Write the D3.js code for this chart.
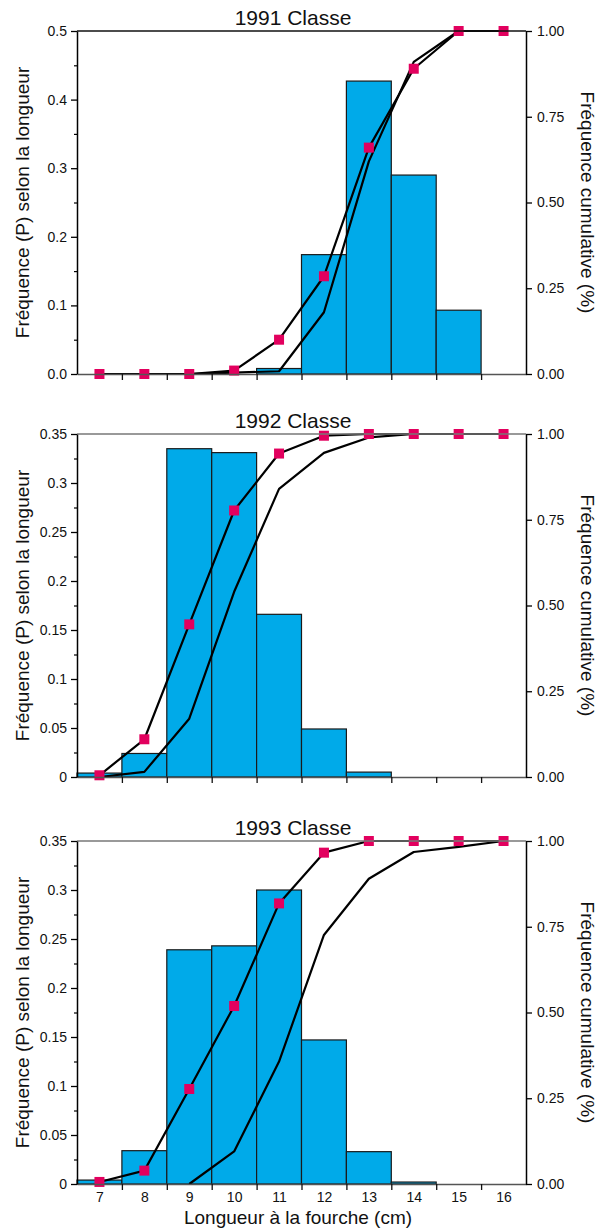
<!DOCTYPE html>
<html>
<head>
<meta charset="utf-8">
<script src="https://cdn.jsdelivr.net/npm/d3@7"></script>
<style>
body { margin:0; background:#fff; }
text { font-family:"Liberation Sans", Arial, Helvetica, sans-serif; fill:#111; }
</style>
</head>
<body>
<div id="chart-area"></div>
<script>
// longueur à la fourche (cm)
const lengths = [7, 8, 9, 10, 11, 12, 13, 14, 15, 16]

// fréquence (P) selon la longueur — histogram bars
const freq1991 = [0, 0, 0, 0, 0.008, 0.174, 0.427, 0.290, 0.093, 0]
const freq1992 = [0.004, 0.024, 0.335, 0.331, 0.166, 0.049, 0.005, 0, 0, 0]
const freq1993 = [0.004, 0.034, 0.239, 0.243, 0.300, 0.147, 0.033, 0.002, 0, 0]

// fréquence cumulative — line with squares
const cumMark1991 = [0, 0, 0, 0.01, 0.10, 0.285, 0.66, 0.89, 1.0, 1.0]
const cumMark1992 = [0.005, 0.11, 0.445, 0.777, 0.943, 0.995, 1.0, 1.0, 1.0, 1.0]
const cumMark1993 = [0.006, 0.039, 0.277, 0.519, 0.818, 0.966, 1.0, 1.0, 1.0, 1.0]

// fréquence cumulative — plain line
const cumLine1991 = [0, 0, 0, 0.004, 0.008, 0.18, 0.62, 0.91, 1.0, 1.0]
const cumLine1992 = [0, 0.015, 0.17, 0.54, 0.84, 0.945, 0.99, 1.0, 1.0, 1.0]
const cumLine1993 = [null, null, 0, 0.095, 0.357, 0.726, 0.89, 0.968, 0.983, 1.0]

const titles = ['1991 Classe', '1992 Classe', '1993 Classe']
const yMaxes = [0.5, 0.35, 0.35]
const yTicks1991 = [0, 0.1, 0.2, 0.3, 0.4, 0.5]
const yTicks1992 = [0, 0.05, 0.1, 0.15, 0.2, 0.25, 0.3, 0.35]
const cumTicks = [0, 0.25, 0.5, 0.75, 1]

const MARGIN = {LEFT:77, TOP:[31, 434, 841]}
const WIDTH = 449
const HEIGHT = 343

const svg = d3.select('#chart-area')
.append('svg')
.attr('width', 597)
.attr('height', 1230)

const x = d3.scaleLinear()
.domain([6.5, 16.5])
.range([0, WIDTH])

const edges = d3.range(7.5, 16, 1)

function drawPanel(i, freq, cumMark, cumLine, yTicks, minorStep, fmt, last, topColor) {
    const g = svg.append('g')
    .attr('transform', `translate(${MARGIN.LEFT},${MARGIN.TOP[i]})`)

    const y = d3.scaleLinear().domain([0, yMaxes[i]]).range([HEIGHT, 0])
    const yc = d3.scaleLinear().domain([0, 1]).range([HEIGHT, 0])

    const data = lengths.map((l, j) => ({l:l, p:freq[j], m:cumMark[j], c:cumLine[j]}))

    // bars
    g.selectAll('rect.bar')
    .data(data.filter(d => d.p > 0))
    .enter().append('rect')
    .attr('class', 'bar')
    .attr('x', d => x(d.l - 0.5))
    .attr('y', d => y(d.p))
    .attr('width', d => x(d.l + 0.5) - x(d.l - 0.5))
    .attr('height', d => HEIGHT - y(d.p))
    .attr('fill', '#00aae9')
    .attr('stroke', '#1a1a1a')
    .attr('stroke-width', 1.2)

    const line = d3.line()
    .defined(d => d.v != null)
    .x(d => x(d.l))
    .y(d => yc(d.v))

    g.append('path')
    .datum(data.map(d => ({l:d.l, v:d.c})))
    .attr('d', line)
    .attr('fill', 'none')
    .attr('stroke', '#000')
    .attr('stroke-width', 2.2)
    .attr('stroke-linejoin', 'round')

    g.append('path')
    .datum(data.map(d => ({l:d.l, v:d.m})))
    .attr('d', line)
    .attr('fill', 'none')
    .attr('stroke', '#000')
    .attr('stroke-width', 2.2)
    .attr('stroke-linejoin', 'round')

    g.selectAll('rect.mark')
    .data(data)
    .enter().append('rect')
    .attr('class', 'mark')
    .attr('x', d => x(d.l) - 5)
    .attr('y', d => yc(d.m) - 5)
    .attr('width', 10)
    .attr('height', 10)
    .attr('fill', '#e2005e')

    // top frame line
    g.append('line')
    .attr('x1', 0).attr('x2', WIDTH)
    .attr('y1', 0).attr('y2', 0)
    .attr('stroke', topColor)
    .attr('stroke-width', 1.5)

    // bottom axis: ticks on the bin edges
    const xAxis = g.append('g')
    .attr('transform', `translate(0,${HEIGHT})`)
    .call(d3.axisBottom(x).tickValues(edges).tickSize(6).tickSizeOuter(0).tickFormat(''))
    xAxis.select('.domain').attr('stroke', '#555').attr('stroke-width', 1.5)
    xAxis.selectAll('.tick line').attr('stroke', '#111').attr('stroke-width', 1.3)

    if (last) {
        const xLab = g.append('g')
        .attr('transform', `translate(0,${HEIGHT})`)
        .call(d3.axisBottom(x).tickValues(lengths).tickSize(0).tickPadding(8))
        xLab.select('.domain').remove()
        xLab.selectAll('text').attr('font-size', '14px').attr('font-family', '"Liberation Sans", Arial, sans-serif')

        g.append('text')
        .attr('x', 221)
        .attr('y', HEIGHT + 40)
        .attr('text-anchor', 'middle')
        .attr('font-size', '19px')
        .text('Longueur à la fourche (cm)')
    }

    // left axis with minor ticks
    const minor = g.append('g')
    .call(d3.axisLeft(y).tickValues(d3.range(minorStep, yMaxes[i], minorStep * 2)).tickSize(3).tickFormat(''))
    minor.select('.domain').remove()
    minor.selectAll('.tick line').attr('stroke-width', 1.2)

    const yAxis = g.append('g')
    .call(d3.axisLeft(y).tickValues(yTicks).tickSize(6).tickSizeOuter(0).tickPadding(4).tickFormat(fmt))
    yAxis.select('.domain').attr('stroke-width', 1.5)
    yAxis.selectAll('.tick line').attr('stroke-width', 1.3)
    yAxis.selectAll('text').attr('font-size', '14px').attr('font-family', '"Liberation Sans", Arial, sans-serif')

    // right axis (cumulative)
    const rAxis = g.append('g')
    .attr('transform', `translate(${WIDTH},0)`)
    .call(d3.axisRight(yc).tickValues(cumTicks).tickSize(6).tickSizeOuter(0).tickPadding(5).tickFormat(d3.format('.2f')))
    rAxis.select('.domain').attr('stroke-width', 1.5)
    rAxis.selectAll('.tick line').attr('stroke-width', 1.3)
    rAxis.selectAll('text').attr('font-size', '14px').attr('font-family', '"Liberation Sans", Arial, sans-serif')

    // titles
    g.append('text')
    .attr('x', 216)
    .attr('y', -6)
    .attr('text-anchor', 'middle')
    .attr('font-size', '21px')
    .text(titles[i])

    g.append('text')
    .attr('x', -HEIGHT / 2)
    .attr('y', -48)
    .attr('text-anchor', 'middle')
    .attr('transform', 'rotate(-90)')
    .attr('font-size', '19px')
    .text('Fréquence (P) selon la longueur')

    g.append('text')
    .attr('x', HEIGHT / 2)
    .attr('y', -(WIDTH + 55))
    .attr('text-anchor', 'middle')
    .attr('transform', 'rotate(90)')
    .attr('font-size', '19px')
    .text('Fréquence cumulative (%)')
}

drawPanel(0, freq1991, cumMark1991, cumLine1991, yTicks1991, 0.05, d3.format('.1f'), false, '#111')
drawPanel(1, freq1992, cumMark1992, cumLine1992, yTicks1992, 0.025, d => String(+d.toFixed(2)), false, '#777')
drawPanel(2, freq1993, cumMark1993, cumLine1993, yTicks1992, 0.025, d => String(+d.toFixed(2)), true, '#777')
</script>
</body>
</html>
